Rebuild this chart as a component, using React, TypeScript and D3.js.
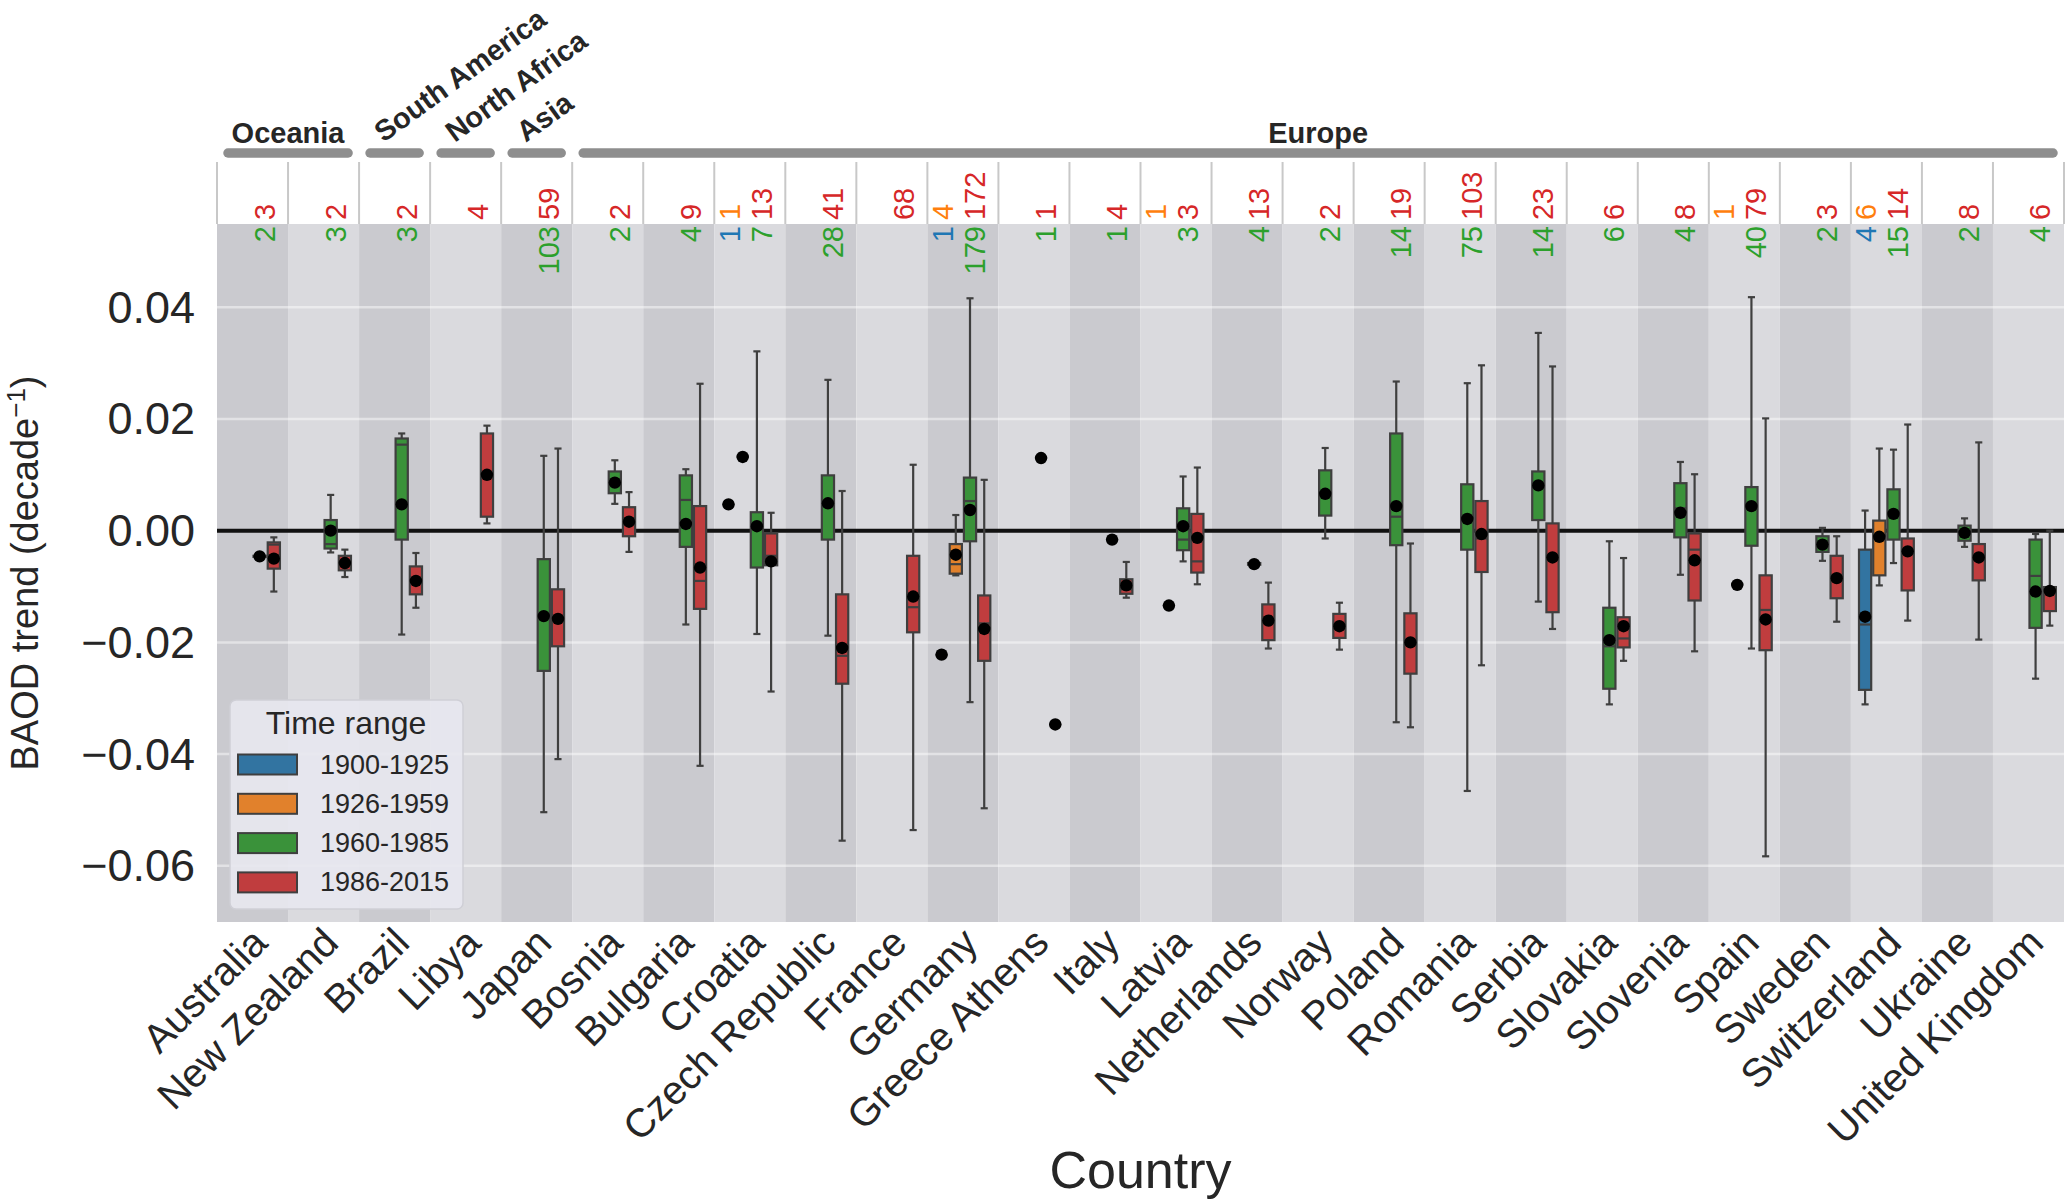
import React from 'react';
import * as d3 from 'd3';

const countries = ['Australia','New Zealand','Brazil','Libya','Japan','Bosnia','Bulgaria','Croatia','Czech Republic','France','Germany','Greece Athens','Italy','Latvia','Netherlands','Norway','Poland','Romania','Serbia','Slovakia','Slovenia','Spain','Sweden','Switzerland','Ukraine','United Kingdom'];

const hues = ['1900-1925','1926-1959','1960-1985','1986-2015'];
const boxColors = ['#3274a1','#e1812c','#3a923a','#c03d3e'];
const textColors = ['#1f77b4','#ff7f0e','#2ca02c','#d62728'];

// [country, whisker low, q1, median, q3, whisker high, mean]
type Stat = [string, number, number, number, number, number, number];

const blueStats: Stat[] = [
  ['Croatia', 0.0047, 0.0047, 0.0047, 0.0047, 0.0047, 0.0047],
  ['Germany', -0.0222, -0.0222, -0.0222, -0.0222, -0.0222, -0.0222],
  ['Switzerland', -0.0311, -0.0285, -0.0168, -0.0034, 0.0036, -0.0154],
];
const orangeStats: Stat[] = [
  ['Croatia', 0.0132, 0.0132, 0.0132, 0.0132, 0.0132, 0.0132],
  ['Germany', -0.0080, -0.0077, -0.0060, -0.0024, 0.0028, -0.0043],
  ['Latvia', -0.0134, -0.0134, -0.0134, -0.0134, -0.0134, -0.0134],
  ['Spain', -0.0097, -0.0097, -0.0097, -0.0097, -0.0097, -0.0097],
  ['Switzerland', -0.0098, -0.0080, -0.0015, 0.0018, 0.0147, -0.0011],
];
const greenStats: Stat[] = [
  ['Australia', -0.0047, -0.0047, -0.0046, -0.0045, -0.0045, -0.0046],
  ['New Zealand', -0.0039, -0.0032, -0.0024, 0.0019, 0.0064, 0.0000],
  ['Brazil', -0.0186, -0.0016, 0.0154, 0.0165, 0.0174, 0.0047],
  ['Japan', -0.0504, -0.0251, -0.0153, -0.0051, 0.0134, -0.0153],
  ['Bosnia', 0.0048, 0.0067, 0.0086, 0.0106, 0.0126, 0.0086],
  ['Bulgaria', -0.0168, -0.0029, 0.0055, 0.0099, 0.0110, 0.0012],
  ['Croatia', -0.0185, -0.0066, 0.0008, 0.0033, 0.0321, 0.0008],
  ['Czech Republic', -0.0188, -0.0016, 0.0049, 0.0099, 0.0270, 0.0049],
  ['Germany', -0.0307, -0.0019, 0.0053, 0.0095, 0.0416, 0.0037],
  ['Greece Athens', 0.0130, 0.0130, 0.0130, 0.0130, 0.0130, 0.0130],
  ['Italy', -0.0016, -0.0016, -0.0016, -0.0016, -0.0016, -0.0016],
  ['Latvia', -0.0055, -0.0035, -0.0016, 0.0040, 0.0097, 0.0008],
  ['Netherlands', -0.0062, -0.0061, -0.0060, -0.0058, -0.0057, -0.0060],
  ['Norway', -0.0014, 0.0027, 0.0066, 0.0108, 0.0148, 0.0066],
  ['Poland', -0.0343, -0.0026, 0.0025, 0.0174, 0.0267, 0.0044],
  ['Romania', -0.0466, -0.0034, 0.0021, 0.0083, 0.0264, 0.0021],
  ['Serbia', -0.0127, 0.0019, 0.0081, 0.0106, 0.0354, 0.0081],
  ['Slovakia', -0.0311, -0.0283, -0.0207, -0.0138, -0.0019, -0.0196],
  ['Slovenia', -0.0079, -0.0012, 0.0040, 0.0085, 0.0123, 0.0032],
  ['Spain', -0.0211, -0.0027, 0.0044, 0.0078, 0.0418, 0.0044],
  ['Sweden', -0.0054, -0.0038, -0.0025, -0.0010, 0.0005, -0.0025],
  ['Switzerland', -0.0058, -0.0016, 0.0030, 0.0074, 0.0145, 0.0030],
  ['Ukraine', -0.0029, -0.0018, -0.0004, 0.0009, 0.0022, -0.0004],
  ['United Kingdom', -0.0265, -0.0174, -0.0081, -0.0016, -0.0006, -0.0109],
];
const redStats: Stat[] = [
  ['Australia', -0.0109, -0.0068, -0.0025, -0.0021, -0.0012, -0.0050],
  ['New Zealand', -0.0083, -0.0071, -0.0058, -0.0045, -0.0034, -0.0058],
  ['Brazil', -0.0138, -0.0114, -0.0090, -0.0064, -0.0040, -0.0090],
  ['Libya', 0.0013, 0.0025, 0.0102, 0.0174, 0.0188, 0.0100],
  ['Japan', -0.0409, -0.0207, -0.0158, -0.0105, 0.0147, -0.0158],
  ['Bosnia', -0.0038, -0.0010, 0.0016, 0.0042, 0.0069, 0.0016],
  ['Bulgaria', -0.0421, -0.0140, -0.0090, 0.0044, 0.0263, -0.0066],
  ['Croatia', -0.0288, -0.0062, -0.0045, -0.0005, 0.0032, -0.0055],
  ['Czech Republic', -0.0555, -0.0274, -0.0224, -0.0114, 0.0071, -0.0210],
  ['France', -0.0536, -0.0182, -0.0137, -0.0045, 0.0118, -0.0118],
  ['Germany', -0.0497, -0.0233, -0.0166, -0.0116, 0.0091, -0.0176],
  ['Greece Athens', -0.0347, -0.0347, -0.0347, -0.0347, -0.0347, -0.0347],
  ['Italy', -0.0120, -0.0113, -0.0105, -0.0087, -0.0056, -0.0098],
  ['Latvia', -0.0096, -0.0075, -0.0055, 0.0030, 0.0113, -0.0013],
  ['Netherlands', -0.0211, -0.0196, -0.0161, -0.0132, -0.0093, -0.0161],
  ['Norway', -0.0213, -0.0192, -0.0171, -0.0149, -0.0129, -0.0171],
  ['Poland', -0.0352, -0.0256, -0.0200, -0.0148, -0.0023, -0.0200],
  ['Romania', -0.0241, -0.0074, -0.0014, 0.0053, 0.0296, -0.0006],
  ['Serbia', -0.0176, -0.0146, -0.0048, 0.0013, 0.0294, -0.0048],
  ['Slovakia', -0.0233, -0.0209, -0.0193, -0.0155, -0.0049, -0.0171],
  ['Slovenia', -0.0216, -0.0125, -0.0034, -0.0005, 0.0101, -0.0053],
  ['Spain', -0.0583, -0.0214, -0.0142, -0.0080, 0.0201, -0.0159],
  ['Sweden', -0.0163, -0.0121, -0.0080, -0.0045, -0.0010, -0.0085],
  ['Switzerland', -0.0161, -0.0107, -0.0037, -0.0014, 0.0190, -0.0037],
  ['Ukraine', -0.0195, -0.0089, -0.0048, -0.0024, 0.0158, -0.0048],
  ['United Kingdom', -0.0170, -0.0144, -0.0108, -0.0101, 0.0000, -0.0108],
];
const statsByHue = [blueStats, orangeStats, greenStats, redStats];

// sample counts per time range
const blueCounts: [string, number][] = [['Croatia', 1], ['Germany', 1], ['Switzerland', 4]];
const orangeCounts: [string, number][] = [['Croatia', 1], ['Germany', 4], ['Latvia', 1], ['Spain', 1], ['Switzerland', 6]];
const greenCounts: [string, number][] = [
  ['Australia', 2], ['New Zealand', 3], ['Brazil', 3], ['Japan', 103], ['Bosnia', 2], ['Bulgaria', 4], ['Croatia', 7],
  ['Czech Republic', 28], ['Germany', 179], ['Greece Athens', 1], ['Italy', 1], ['Latvia', 3], ['Netherlands', 4],
  ['Norway', 2], ['Poland', 14], ['Romania', 75], ['Serbia', 14], ['Slovakia', 6], ['Slovenia', 4], ['Spain', 40],
  ['Sweden', 2], ['Switzerland', 15], ['Ukraine', 2], ['United Kingdom', 4],
];
const redCounts: [string, number][] = [
  ['Australia', 3], ['New Zealand', 2], ['Brazil', 2], ['Libya', 4], ['Japan', 59], ['Bosnia', 2], ['Bulgaria', 9],
  ['Croatia', 13], ['Czech Republic', 41], ['France', 68], ['Germany', 172], ['Greece Athens', 1], ['Italy', 4],
  ['Latvia', 3], ['Netherlands', 13], ['Norway', 2], ['Poland', 19], ['Romania', 103], ['Serbia', 23], ['Slovakia', 6],
  ['Slovenia', 8], ['Spain', 79], ['Sweden', 3], ['Switzerland', 14], ['Ukraine', 8], ['United Kingdom', 6],
];
const countsByHue = [blueCounts, orangeCounts, greenCounts, redCounts];

const regionNames = ['Oceania', 'South America', 'North Africa', 'Asia', 'Europe'];
const regionFirst = ['Australia', 'Brazil', 'Libya', 'Japan', 'Bosnia'];
const regionLast = ['New Zealand', 'Brazil', 'Libya', 'Japan', 'United Kingdom'];
const regionRotated = [false, true, true, true, false];

const yTicks = [0.04, 0.02, 0.0, -0.02, -0.04, -0.06];

const W = 2067, H = 1199;
const FONT = '"Liberation Sans", Arial, Helvetica, sans-serif';
const TXT = '#262626';
const EDGE = '#3f3f3f';

export default function App() {
  const plotL = 217, plotR = 2064, plotT = 224, plotB = 922, headT = 161;
  const x = d3.scaleBand<string>().domain(countries).range([plotL, plotR]).paddingInner(0).paddingOuter(0);
  const bw = x.bandwidth();
  const hx = d3.scaleBand<string>().domain(hues).range([-0.4 * bw, 0.4 * bw]);
  const hw = hx.bandwidth();
  const y = d3.scaleLinear().domain([-0.07006, 0.0549]).range([plotB, plotT]);
  const fmt = (v: number) => (v < 0 ? '\u2212' : '') + d3.format('.2f')(Math.abs(v));
  const cxOf = (c: string) => (x(c) as number) + bw / 2;

  const boxes: React.ReactNode[] = [];
  const dots: React.ReactNode[] = [];
  statsByHue.forEach((arr, hi) => {
    arr.forEach(([c, lo, q1, med, q3, hi2, mean]) => {
      const cx = cxOf(c) + (hx(hues[hi]) as number) + hw / 2;
      const left = cx - hw / 2;
      const capW = hw / 2;
      boxes.push(
        <g key={`b${hi}-${c}`}>
          <line x1={cx} x2={cx} y1={y(q3)} y2={y(hi2)} stroke={EDGE} strokeWidth={2.2} />
          <line x1={cx} x2={cx} y1={y(q1)} y2={y(lo)} stroke={EDGE} strokeWidth={2.2} />
          <line x1={cx - capW / 2} x2={cx + capW / 2} y1={y(hi2)} y2={y(hi2)} stroke={EDGE} strokeWidth={2.2} />
          <line x1={cx - capW / 2} x2={cx + capW / 2} y1={y(lo)} y2={y(lo)} stroke={EDGE} strokeWidth={2.2} />
          <rect x={left + 1} y={y(q3)} width={hw - 2} height={Math.max(0, y(q1) - y(q3))} fill={boxColors[hi]} stroke={EDGE} strokeWidth={2.2} />
          <line x1={left + 1} x2={left + hw - 1} y1={y(med)} y2={y(med)} stroke={EDGE} strokeWidth={2.2} />
        </g>
      );
      dots.push(<circle key={`m${hi}-${c}`} cx={cx} cy={y(mean)} r={6.2} fill="#000" />);
    });
  });

  const countTexts: React.ReactNode[] = [];
  countsByHue.forEach((arr, hi) => {
    arr.forEach(([c, n]) => {
      const tx = cxOf(c) + (hi < 2 ? -20 : 12);
      const above = hi === 1 || hi === 3;
      const ty = above ? plotT - 4 : plotT + 2;
      countTexts.push(
        <text key={`n${hi}-${c}`} x={tx} y={ty} transform={`rotate(-90,${tx},${ty})`}
          textAnchor={above ? 'start' : 'end'} dominantBaseline="central"
          fontSize={29} fill={textColors[hi]}>{n}</text>
      );
    });
  });

  const yMid = (plotT + plotB) / 2;

  return (
    <svg width={W} height={H} style={{ position: 'absolute', left: 0, top: 0, background: '#fff' }} fontFamily={FONT}>
      <rect x={0} y={0} width={W} height={H} fill="#fff" />
      {/* column shading */}
      {countries.map((c, i) => (
        <rect key={`s${c}`} x={x(c)} y={plotT} width={bw} height={plotB - plotT} fill={i % 2 === 0 ? '#cacacf' : '#dadade'} />
      ))}
      {/* grid */}
      {yTicks.map(t => (
        <line key={`g${t}`} x1={plotL} x2={plotR} y1={y(t)} y2={y(t)} stroke="#ffffff" strokeOpacity={0.45} strokeWidth={2.5} />
      ))}
      <line x1={plotL} x2={plotR} y1={y(0)} y2={y(0)} stroke="#111" strokeWidth={4} />
      {boxes}
      {dots}
      {/* header strip */}
      <rect x={plotL} y={headT} width={plotR - plotL} height={plotT - headT} fill="#fff" />
      {d3.range(countries.length + 1).map(k => {
        const xx = plotL + k * bw;
        return <line key={`sep${k}`} x1={xx} x2={xx} y1={headT + 1} y2={plotT} stroke="#c8c8c8" strokeWidth={2} />;
      })}
      {countTexts}
      {/* regions */}
      {regionNames.map((r, i) => {
        const x0 = (x(regionFirst[i]) as number) + 6;
        const x1 = (x(regionLast[i]) as number) + bw - 6;
        const mid = (x0 + x1) / 2;
        const rx = cxOf(regionFirst[i]) - 11, ry = 143;
        return (
          <g key={`r${r}`}>
            <line x1={x0 + 5} x2={x1 - 5} y1={153} y2={153} stroke="#8e8e8e" strokeWidth={9.5} strokeLinecap="round" />
            {regionRotated[i] ? (
              <text x={rx} y={ry} transform={`rotate(-36,${rx},${ry})`}
                fontSize={29} fontWeight="bold" fill={TXT}>{r}</text>
            ) : (
              <text x={mid} y={143} textAnchor="middle" fontSize={29} fontWeight="bold" fill={TXT}>{r}</text>
            )}
          </g>
        );
      })}
      {/* y axis */}
      {yTicks.map(t => (
        <text key={`yt${t}`} x={195} y={y(t)} textAnchor="end" dominantBaseline="central" fontSize={45} fill={TXT}>{fmt(t)}</text>
      ))}
      <text x={38} y={yMid} transform={`rotate(-90,38,${yMid})`} textAnchor="middle" fontSize={38} fill={TXT}>
        BAOD trend (decade<tspan fontSize={26} dy={-13}>{'\u22121'}</tspan><tspan dy={13}>)</tspan>
      </text>
      {/* x axis */}
      {countries.map(c => {
        const ex = cxOf(c) + 17, ey = 945;
        return (
          <text key={`xt${c}`} x={ex} y={ey} transform={`rotate(-45,${ex},${ey})`} textAnchor="end" fontSize={40} fill={TXT}>{c}</text>
        );
      })}
      <text x={(plotL + plotR) / 2} y={1188} textAnchor="middle" fontSize={52} fill={TXT}>Country</text>
      {/* legend */}
      <g>
        <rect x={230} y={700} width={233} height={209} rx={6} fill="#e7e7ef" fillOpacity={0.92} stroke="#cfcfd6" strokeWidth={1.5} />
        <text x={346} y={734} textAnchor="middle" fontSize={32} fill={TXT}>Time range</text>
        {hues.map((h, i) => (
          <g key={`l${h}`}>
            <rect x={238} y={754.5 + i * 39.3} width={59} height={20} fill={boxColors[i]} stroke={EDGE} strokeWidth={2} />
            <text x={320} y={773.5 + i * 39.3} fontSize={27} fill={TXT}>{h}</text>
          </g>
        ))}
      </g>
    </svg>
  );
}
